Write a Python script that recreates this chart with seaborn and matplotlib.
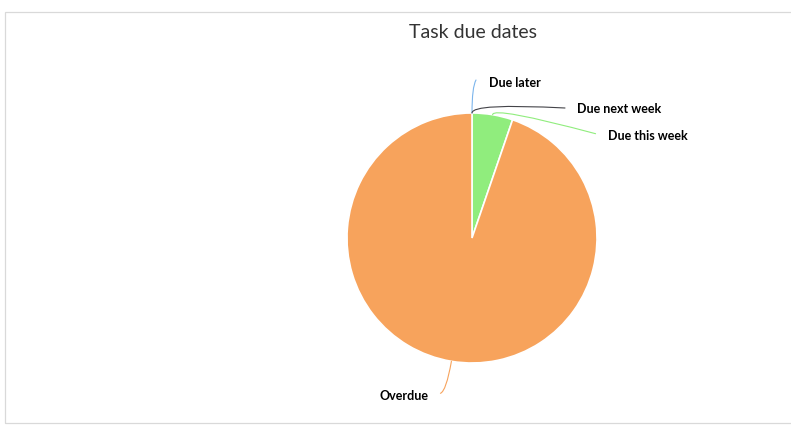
import matplotlib
matplotlib.use('Agg')
import numpy as np
import seaborn as sns
import matplotlib.pyplot as plt
from matplotlib.patches import Rectangle

# data
categories = ['Due later', 'Due next week', 'Due this week', 'Overdue']
task_counts = [0, 0, 1, 18]
slice_colors = ['#7cb5ec', '#434348', '#90ed7d', '#f7a35c']

# leader line end / label position, as pixel offsets from the slice edge point
line_offsets = {'Due later': (4, 33), 'Due next week': (93, 5),
                'Due this week': (103, -19), 'Overdue': (-11, -32)}
label_offsets = {'Due later': (17, 30), 'Due next week': (105, 4),
                 'Due this week': (115, -21), 'Overdue': (-23, -35)}
connect_angles = {'Due later': (60, 90), 'Due next week': (-3, 90),
                  'Due this week': (-15, 85), 'Overdue': (20, 80)}

sns.set_theme(style='white')
plt.rcParams['font.family'] = ['Lato', 'DejaVu Sans']

fig = plt.figure(figsize=(7.91, 4.25), dpi=100)

# light frame around the chart container
fig.add_artist(Rectangle((4.5 / 791, 2.5 / 425), 1.0, 410.5 / 425, transform=fig.transFigure,
                         fill=False, edgecolor='#d9d9d9', linewidth=0.9))

fig.text(473 / 791, 1 - 33 / 425, 'Task due dates', ha='center', va='center',
         fontsize=14, color='#333333')

# square axes centred on the pie (center ~ 472,238, radius ~125 px)
ax = fig.add_axes([347 / 791, 62 / 425, 250 / 791, 250 / 425])
wedges, _ = ax.pie(task_counts, colors=slice_colors, startangle=90, counterclock=False,
                   radius=1, wedgeprops=dict(edgecolor='white', linewidth=1.2))
ax.set_xlim(-1, 1)
ax.set_ylim(-1, 1)
ax.set_axis_off()

for w, name, col in zip(wedges, categories, slice_colors):
    mid = np.deg2rad((w.theta1 + w.theta2) / 2)
    xy = (np.cos(mid), np.sin(mid))
    a_ang, b_ang = connect_angles[name]
    ax.annotate('', xy=xy, xytext=line_offsets[name], textcoords='offset pixels',
                arrowprops=dict(arrowstyle='-', color=col, lw=0.8, shrinkA=0, shrinkB=0,
                                connectionstyle=f'angle3,angleA={a_ang},angleB={b_ang}'),
                annotation_clip=False)
    dx, dy = label_offsets[name]
    ax.annotate(name, xy=xy, xytext=(dx, dy), textcoords='offset pixels',
                ha='left' if dx > 0 else 'right', va='center', fontsize=9,
                fontweight='bold', color='black', annotation_clip=False)

fig.savefig('out.png', dpi=100)
